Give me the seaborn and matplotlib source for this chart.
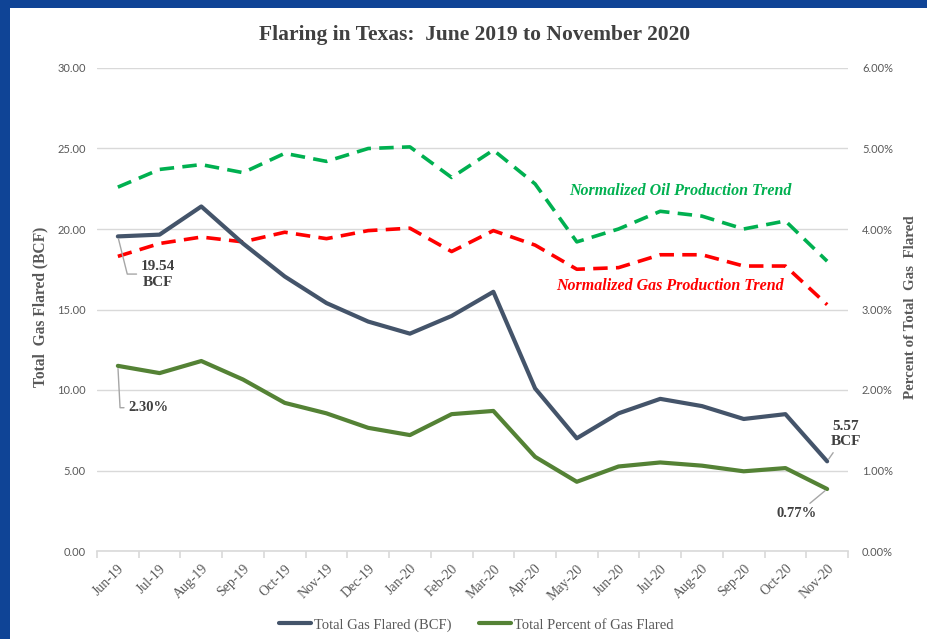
import numpy as np
import pandas as pd
import matplotlib.pyplot as plt
import seaborn as sns

sns.set_theme(style="white")
plt.rcParams["font.family"] = ["Liberation Serif", "DejaVu Serif"]

# Data
months = ["Jun-19", "Jul-19", "Aug-19", "Sep-19", "Oct-19", "Nov-19", "Dec-19", "Jan-20", "Feb-20",
          "Mar-20", "Apr-20", "May-20", "Jun-20", "Jul-20", "Aug-20", "Sep-20", "Oct-20", "Nov-20"]
gas_flared_bcf = [19.54, 19.65, 21.4, 19.1, 17.05, 15.4, 14.25, 13.5, 14.6,
                  16.1, 10.1, 7.0, 8.55, 9.45, 9.0, 8.2, 8.5, 5.57]
pct_flared = [2.30, 2.21, 2.36, 2.13, 1.84, 1.71, 1.53, 1.44, 1.70,
              1.74, 1.17, 0.86, 1.05, 1.10, 1.06, 0.99, 1.03, 0.77]
oil_trend = [22.6, 23.7, 24.0, 23.5, 24.7, 24.2, 25.0, 25.1, 23.2,
             24.9, 22.8, 19.2, 20.0, 21.1, 20.8, 20.0, 20.5, 18.0]
gas_trend = [18.3, 19.1, 19.5, 19.2, 19.8, 19.4, 19.9, 20.05, 18.6,
             19.9, 19.0, 17.5, 17.6, 18.4, 18.4, 17.7, 17.7, 15.3]

df = pd.DataFrame({
    "pos": np.arange(len(months)),
    "Month": months,
    "BCF": gas_flared_bcf,
    "Pct": pct_flared,
    "Oil": oil_trend,
    "Gas": gas_trend,
})

navy = "#44546a"
green = "#548235"
oil_green = "#00b050"
red = "#ff0000"
grey_txt = "#595959"
dark_txt = "#404040"
grid_col = "#d9d9d9"

fig = plt.figure(figsize=(9.27, 6.39), dpi=100)
fig.patch.set_facecolor("#0f4496")
fig.add_artist(plt.Rectangle((10 / 927, 0), 1, 1 - 8 / 639, transform=fig.transFigure,
                             facecolor="white", edgecolor="none", zorder=-1))

ax = fig.add_axes([97 / 927, 88 / 639, 751 / 927, 483 / 639])
ax.set_facecolor("white")
ax2 = ax.twinx()

# trend lines (left axis scale)
sns.lineplot(data=df, x="pos", y="Oil", ax=ax, color=oil_green, linewidth=2.6,
             dashes=False, legend=False)
ax.lines[-1].set_dashes((4, 2.3))
sns.lineplot(data=df, x="pos", y="Gas", ax=ax, color=red, linewidth=2.6,
             dashes=False, legend=False)
ax.lines[-1].set_dashes((4, 2.3))

# main series
sns.lineplot(data=df, x="pos", y="BCF", ax=ax, color=navy, linewidth=3.0,
             label="Total Gas Flared (BCF)", legend=False)
sns.lineplot(data=df, x="pos", y="Pct", ax=ax2, color=green, linewidth=3.0,
             label="Total Percent of Gas Flared", legend=False)

# axes styling
ax.set_xlim(-0.5, len(months) - 0.5)
ax.set_ylim(0, 30)
ax2.set_ylim(0, 6)
ax.set_yticks(np.arange(0, 31, 5))
ax.set_yticklabels([f"{v:.2f}" for v in np.arange(0, 31, 5)])
ax2.set_yticks(np.arange(0, 7, 1))
ax2.set_yticklabels([f"{v:.2f}%" for v in np.arange(0, 7, 1)])

ax.grid(axis="y", color=grid_col, linewidth=1.0)
ax.set_axisbelow(True)
for a in (ax, ax2):
    for s in a.spines.values():
        s.set_visible(False)
ax.spines["bottom"].set_visible(True)
ax.spines["bottom"].set_color(grid_col)
ax.spines["bottom"].set_linewidth(1.2)

ax.set_xticks(df["pos"])
ax.set_xticklabels(months, rotation=45, ha="right", rotation_mode="anchor",
                   fontsize=10, color=grey_txt)
ax.set_xticks(np.arange(-0.5, len(months), 1), minor=True)
ax.tick_params(axis="x", which="major", length=0, pad=8)
ax.tick_params(axis="x", which="minor", length=5, width=1.2, color=grid_col, direction="out", bottom=True)
ax.tick_params(axis="y", length=0, pad=8, labelsize=8, labelcolor=grey_txt)
ax2.tick_params(axis="y", length=0, pad=10, labelsize=8, labelcolor=grey_txt)
for lab in ax.get_yticklabels() + ax2.get_yticklabels():
    lab.set_family("Lato")

ax.set_xlabel("")
ax.set_ylabel("")
ax2.set_ylabel("")

# titles
fig.text(475 / 927, 1 - 35 / 639, "Flaring in Texas:  June 2019 to November 2020",
         ha="center", va="center", fontsize=15.5, fontweight="bold", color=dark_txt)
fig.text(40 / 927, 1 - 307 / 639, "Total  Gas Flared (BCF)", rotation=90,
         ha="center", va="center", fontsize=11.2, fontweight="bold", color=grey_txt)
fig.text(911 / 927, 1 - 307 / 639, "Percent of Total  Gas  Flared", rotation=90,
         ha="center", va="center", fontsize=10.8, fontweight="bold", color=grey_txt)

# trend labels
ax.text(13.48, 22.34, "Normalized Oil Production Trend", color=oil_green, fontsize=11.5,
        fontweight="bold", style="italic", ha="center", va="center")
ax.text(13.24, 16.49, "Normalized Gas Production Trend", color=red, fontsize=11.5,
        fontweight="bold", style="italic", ha="center", va="center")

# data callouts
leader = dict(arrowstyle="-", color="#a6a6a6", linewidth=1.0, shrinkA=1, shrinkB=2)
ax.annotate("19.54\nBCF", xy=(0, gas_flared_bcf[0]), xytext=(0.97, 17.2),
            ha="center", va="center", fontsize=11, fontweight="bold", color=dark_txt,
            linespacing=1.3,
            arrowprops=dict(leader, connectionstyle="angle,angleA=0,angleB=104,rad=0"))
ax2.annotate("2.30%", xy=(0, pct_flared[0]), xytext=(0.74, 1.78),
             ha="center", va="center", fontsize=10.5, fontweight="bold", color=dark_txt,
             arrowprops=dict(leader, connectionstyle="angle,angleA=0,angleB=93,rad=0"))
ax.annotate("5.57\nBCF", xy=(17, gas_flared_bcf[-1]), xytext=(17.45, 7.25),
            ha="center", va="center", fontsize=11, fontweight="bold", color=dark_txt,
            linespacing=1.2, arrowprops=leader)
ax2.annotate("0.77%", xy=(17, pct_flared[-1]), xytext=(16.28, 0.46),
             ha="center", va="center", fontsize=10.5, fontweight="bold", color=dark_txt,
             arrowprops=leader)

# legend
handles = [ax.lines[2], ax2.lines[0]]
fig.legend(handles, ["Total Gas Flared (BCF)", "Total Percent of Gas Flared"],
           loc="center", bbox_to_anchor=(476 / 927, 1 - 625 / 639), ncol=2, frameon=False,
           fontsize=10.5, handlelength=2.2, handletextpad=0.2, columnspacing=1.9,
           labelcolor=grey_txt)

fig.savefig("out.png", dpi=100, facecolor=fig.get_facecolor())
